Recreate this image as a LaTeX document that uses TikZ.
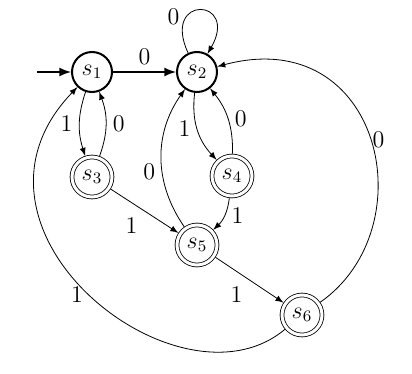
\documentclass[tikz,border=0pt]{standalone}
\usepackage{xcolor}
\usetikzlibrary{arrows}
\usetikzlibrary{math}

\tikzset{
 plainstate/.style={circle, draw, line width=1pt, minimum size=20pt, inner sep=0pt},
 acceptstate/.style={circle, draw, double, double distance=1.5pt, line width=0.4pt, minimum size=20pt, inner sep=0pt, outer sep=1.15pt},
 trans/.style={-latex, line width=0.4pt},
 strongtrans/.style={-latex, line width=1pt},
}

\begin{document}
\begin{tikzpicture}[x=0.5pt,y=0.5pt,font=\large]
\tikzmath{
\w=412;
\h=374;
}
 \useasboundingbox (0,0) rectangle (\w,-\h);

 %states:
 \node[plainstate] (s1) at (92,-72) {$s_1$};
 \node[plainstate] (s2) at (197,-72) {$s_2$};
 \node[acceptstate] (s3) at (92,-177) {$s_3$};
 \node[acceptstate] (s4) at (232,-176) {$s_4$};
 \node[acceptstate] (s5) at (197,-245) {$s_5$};
 \node[acceptstate] (s6) at (302,-315) {$s_6$};
 \coordinate (start) at (37,-72);

 %transitions:
 \draw[strongtrans] (start) -- (s1);
 \draw[strongtrans] (s1) -- (s2) node[midway,above]{$0$};
 \draw[trans] (s2) to[out=115,in=60,out distance=32.5pt,in distance=32.5pt] node[pos=0.3,left]{$0$} (s2);

 \draw[trans] (s1) to[bend right=18] node[left]{$1$} (s3);
 \draw[trans] (s3) to[bend right=20] node[right]{$0$} (s1);
 \draw[trans] (s2) to[bend right=25] node[left]{$1$} (s4);
 \draw[trans] (s4) to[bend right=20] node[right]{$0$} (s2);
 \draw[trans] (s4) to[bend left=20] node[right]{$1$} (s5);
 \draw[trans] (s5) to[bend left=35] node[pos=0.4,left]{$0$} (s2);

 \draw[trans] (s3) -- (s5) node[midway,below left]{$1$};
 \draw[trans] (s5) -- (s6) node[midway,below left]{$1$};

 \draw[trans] (s6) to[out=35,in=15,out distance=65pt,in distance=85pt] node[pos=0.5,right,inner sep=1pt]{$0$} (s2);
 \draw[trans] (s6) to[out=220,in=226,out distance=69pt,in distance=99pt] node[pos=0.5,left]{$1$} (s1);
\end{tikzpicture}
\end{document}
